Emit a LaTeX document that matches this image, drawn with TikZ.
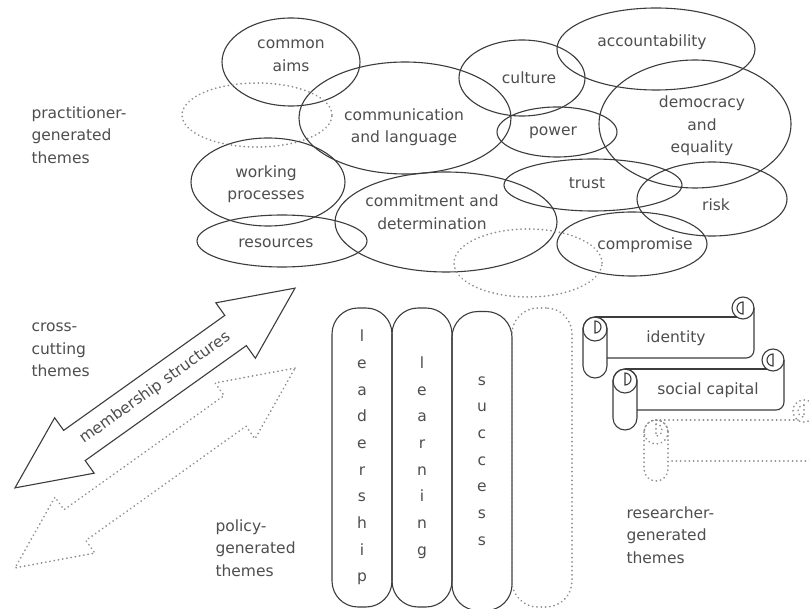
\documentclass[tikz,border=0pt]{standalone}
\usepackage{fontspec}
\setmainfont{DejaVu Sans}
\usetikzlibrary{shapes.geometric, shapes.arrows}

\definecolor{inkline}{HTML}{3C3C3C}
\definecolor{inktext}{HTML}{4E4E4E}
\definecolor{ghost}{HTML}{8E8E8E}

\begin{document}
\begin{tikzpicture}[
  x=1pt, y=-1pt,
  every node/.style = {text=inktext, font=\fontsize{15.5}{22.5}\selectfont},
  theme/.style   = {ellipse, draw=inkline, line width=1.1pt, inner sep=0pt},
  themetext/.style = {align=center, inner sep=0pt},
  ghostline/.style = {draw=ghost, color=ghost, line width=1.7pt,
                      dash pattern=on 0.3pt off 4pt, line cap=round},
  side/.style    = {align=left, anchor=west},
  pillar/.style  = {draw=inkline, line width=1.1pt, rounded corners=26pt,
                    minimum width=60pt, minimum height=299pt, inner sep=0pt,
                    align=center, font=\fontsize{15.5}{26.7}\selectfont},
  twoway/.style  = {double arrow, draw=inkline, line width=1.1pt,
                    minimum height=344pt, inner xsep=0pt, inner ysep=10.5pt,
                    double arrow head extend=15.5pt, double arrow tip angle=50,
                    rotate=35.5},
  scrollink/.style = {color=inkline, line width=1.1pt},
  themescroll/.pic = {
    % rolled end
    \draw[rounded corners=12pt] (0,0) rectangle (24,61);
    \draw (12,12) circle[radius=12];
    \draw (12,4) arc[start angle=-90, end angle=90, radius=6] -- cycle;
    % sheet with curl at the right
    \draw (12,0) -- (154,0);
    \draw[rounded corners=8pt] (171,-9) -- (171,41) -- (24,41);
    \draw (160,-9) circle[radius=11];
    \draw (160,-15) arc[start angle=-90, end angle=-270, radius=6] -- cycle;
  }
]
\useasboundingbox (0,0) rectangle (809,609);
\clip (0,0) rectangle (809,609);
\fill[white] (0,0) rectangle (809,609);

% practitioner-generated themes: outlines
\node[theme, minimum width=138pt, minimum height=88pt]  (aims)    at (291,62)  {};
\node[theme, ghostline, minimum width=150pt, minimum height=64pt] (blankA) at (257,115) {};
\node[theme, minimum width=212pt, minimum height=112pt] (comm)    at (405,118) {};
\node[theme, minimum width=154pt, minimum height=88pt]  (work)    at (268,182) {};
\node[theme, minimum width=170pt, minimum height=52pt]  (res)     at (282,241) {};
\node[theme, minimum width=222pt, minimum height=100pt] (commit)  at (446,222) {};
\node[theme, minimum width=126pt, minimum height=76pt]  (culture) at (522,78)  {};
\node[theme, minimum width=198pt, minimum height=82pt]  (account) at (656,49)  {};
\node[theme, minimum width=120pt, minimum height=50pt]  (power)   at (557,132) {};
\node[theme, minimum width=192pt, minimum height=128pt] (demo)    at (695,124) {};
\node[theme, minimum width=178pt, minimum height=52pt]  (trust)   at (593,185) {};
\node[theme, minimum width=150pt, minimum height=74pt]  (risk)    at (712,199) {};
\node[theme, minimum width=150pt, minimum height=64pt]  (compro)  at (632,244) {};
\node[theme, ghostline, minimum width=148pt, minimum height=68pt] (blankB) at (528,263) {};

% practitioner-generated themes: texts
\node[themetext] (aimsT)    at (291,56)  {common\\aims};
\node[themetext] (commT)    at (404,127) {communication\\and language};
\node[themetext] (workT)    at (266,184) {working\\processes};
\node[themetext] (resT)     at (276,243) {resources};
\node[themetext] (commitT)  at (432,212) {commitment and\\determination};
\node[themetext] (cultureT) at (529,78)  {culture};
\node[themetext] (accountT) at (652,42)  {accountability};
\node[themetext] (powerT)   at (553,133) {power};
\node[themetext] (demoT)    at (702,126) {democracy\\and\\equality};
\node[themetext] (trustT)   at (587,183) {trust};
\node[themetext] (riskT)    at (716,205) {risk};
\node[themetext] (comproT)  at (645,245) {compromise};

% cross-cutting themes
\node[twoway] (member) at (155,388) {membership structures};
\node[twoway, ghostline] (memberB) at (155,468) {\phantom{membership structures}};

% policy-generated themes
\node[pillar] (lead)  at (362,457.5) {l\\e\\a\\d\\e\\r\\s\\h\\i\\p};
\node[pillar] (learn) at (422,457.5) {l\\e\\a\\r\\n\\i\\n\\g};
\node[pillar] (succ)  at (482,461) {s\\u\\c\\c\\e\\s\\s};
\node[pillar, ghostline] (blankC) at (542,457.5) {};

% researcher-generated themes
\pic[scrollink] at (583,317) {themescroll};
\pic[scrollink] at (613,369) {themescroll};
\pic[ghostline] at (644,420) {themescroll};
\node (identity) at (676,338) {identity};
\node (social)   at (708,390) {social capital};

% side labels
\node[side] (practitioner) at (28,135)  {practitioner-\\generated\\themes};
\node[side] (crosscut)     at (28,350)  {cross-\\cutting\\themes};
\node[side] (policy)       at (212,548) {policy-\\generated\\themes};
\node[side] (researcher)   at (623,535) {researcher-\\generated\\themes};
\end{tikzpicture}
\end{document}
